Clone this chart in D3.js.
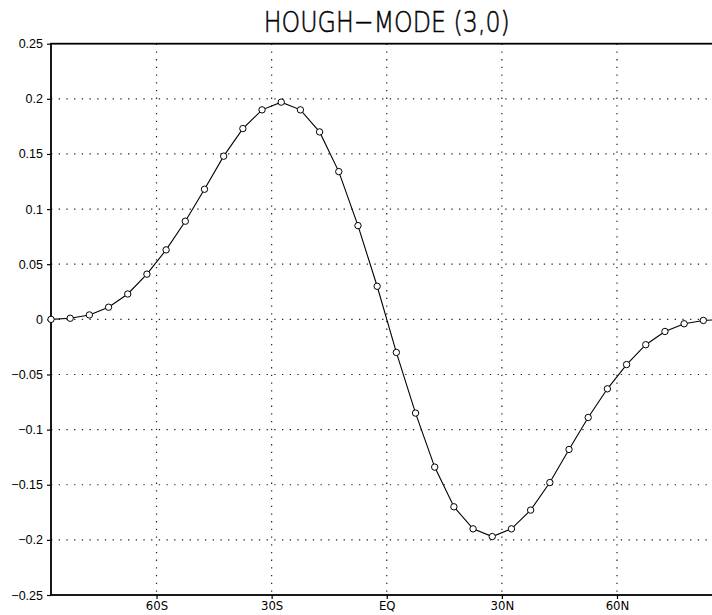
<!DOCTYPE html>
<html>
<head>
<meta charset="utf-8">
<script src="https://cdn.jsdelivr.net/npm/d3@7"></script>
<style>
  html, body { margin: 0; padding: 0; background: #fff; }
  svg { display: block; }
</style>
</head>
<body>
<div id="chart"></div>
<script>
// Latitudes of the sampled points (degrees, south negative)
const latitudes = [
  -87.5, -82.5, -77.5, -72.5, -67.5, -62.5, -57.5, -52.5, -47.5, -42.5,
  -37.5, -32.5, -27.5, -22.5, -17.5, -12.5, -7.5, -2.5,
  2.5, 7.5, 12.5, 17.5, 22.5, 27.5, 32.5, 37.5, 42.5, 47.5,
  52.5, 57.5, 62.5, 67.5, 72.5, 77.5, 82.5, 87.5
];
// Hough function amplitude at each latitude
const houghValues = [
  0.000, 0.001, 0.004, 0.011, 0.023, 0.041, 0.063, 0.089, 0.118, 0.148,
  0.173, 0.190, 0.197, 0.190, 0.170, 0.134, 0.085, 0.030,
  -0.030, -0.085, -0.134, -0.170, -0.190, -0.197, -0.190, -0.173, -0.148, -0.118,
  -0.089, -0.063, -0.041, -0.023, -0.011, -0.004, -0.001, 0.000
];
const xTickValues = [-60, -30, 0, 30, 60];
const xTickLabels = ["60S", "30S", "EQ", "30N", "60N"];
const yTickValues = [-0.25, -0.2, -0.15, -0.1, -0.05, 0, 0.05, 0.1, 0.15, 0.2, 0.25];
const yTickLabels = ["-0.25", "-0.2", "-0.15", "-0.1", "-0.05", "0", "0.05", "0.1", "0.15", "0.2", "0.25"];
const titleText = "HOUGH-MODE (3,0)";

const W = 712, H = 615;
const margin = { left: 51, top: 43.7 };
const plotW = 671.5, plotH = 551.3;

const svg = d3.select("#chart").append("svg")
  .attr("width", W).attr("height", H);

const x = d3.scaleLinear().domain([-87.5, 87.5]).range([0, plotW]);
const y = d3.scaleLinear().domain([-0.25, 0.25]).range([plotH, 0]);

const g = svg.append("g").attr("transform", `translate(${margin.left},${margin.top})`);

// Dotted grid
const grid = g.append("g").attr("stroke", "#222").attr("stroke-width", 1.2)
  .attr("stroke-dasharray", "1.3,6.4").attr("fill", "none");
grid.selectAll("line.v").data(xTickValues).join("line")
  .attr("class", "v")
  .attr("x1", d => x(d)).attr("x2", d => x(d))
  .attr("y1", 0).attr("y2", plotH);
grid.selectAll("line.h").data(yTickValues.filter(v => Math.abs(v) < 0.249)).join("line")
  .attr("class", "h")
  .attr("x1", 0).attr("x2", plotW)
  .attr("y1", d => y(d)).attr("y2", d => y(d));

// Axes
const yAxis = d3.axisLeft(y).tickValues(yTickValues)
  .tickFormat((d, i) => yTickLabels[i]).tickSize(4).tickPadding(4);
const yG = g.append("g").call(yAxis);
yG.select(".domain").remove();
yG.selectAll("line").attr("stroke", "#000").attr("stroke-width", 1.2);
yG.selectAll("text")
  .attr("font-family", "Liberation Sans, Arial, sans-serif")
  .attr("font-size", 12.5).attr("fill", "#000")
  .text((d, i) => yTickLabels[i].replace("-", "\u2212"));

const xAxis = d3.axisBottom(x).tickValues(xTickValues)
  .tickFormat((d, i) => xTickLabels[i]).tickSize(4).tickPadding(2);
const xG = g.append("g").attr("transform", `translate(0,${plotH})`).call(xAxis);
xG.select(".domain").remove();
xG.selectAll("line").attr("stroke", "#000").attr("stroke-width", 1.2);
xG.selectAll("text")
  .attr("font-family", "DejaVu Sans Condensed, DejaVu Sans, sans-serif")
  .attr("font-size", 13).attr("fill", "#000");

// Frame
g.append("rect").attr("x", 0).attr("y", 0).attr("width", plotW).attr("height", plotH)
  .attr("fill", "none").attr("stroke", "#000").attr("stroke-width", 1.8);

// Curve
const pts = latitudes.map((lat, i) => ({ lat, v: houghValues[i] }));
g.append("path").datum(pts)
  .attr("fill", "none").attr("stroke", "#000").attr("stroke-width", 1.1)
  .attr("d", d3.line().x(d => x(d.lat)).y(d => y(d.v)));
g.selectAll("circle").data(pts).join("circle")
  .attr("cx", d => x(d.lat)).attr("cy", d => y(d.v)).attr("r", 3.2)
  .attr("fill", "#fff").attr("stroke", "#000").attr("stroke-width", 1);

// Title
svg.append("text")
  .attr("x", margin.left + x(0)).attr("y", 32)
  .attr("text-anchor", "middle")
  .attr("font-family", "DejaVu Sans, sans-serif")
  .attr("font-weight", 200)
  .attr("font-size", 29)
  .attr("textLength", 246).attr("lengthAdjust", "spacingAndGlyphs")
  .attr("fill", "#000").attr("stroke", "#000").attr("stroke-width", 0.5)
  .text(titleText.replace("-", "\u2212"));
</script>
</body>
</html>
